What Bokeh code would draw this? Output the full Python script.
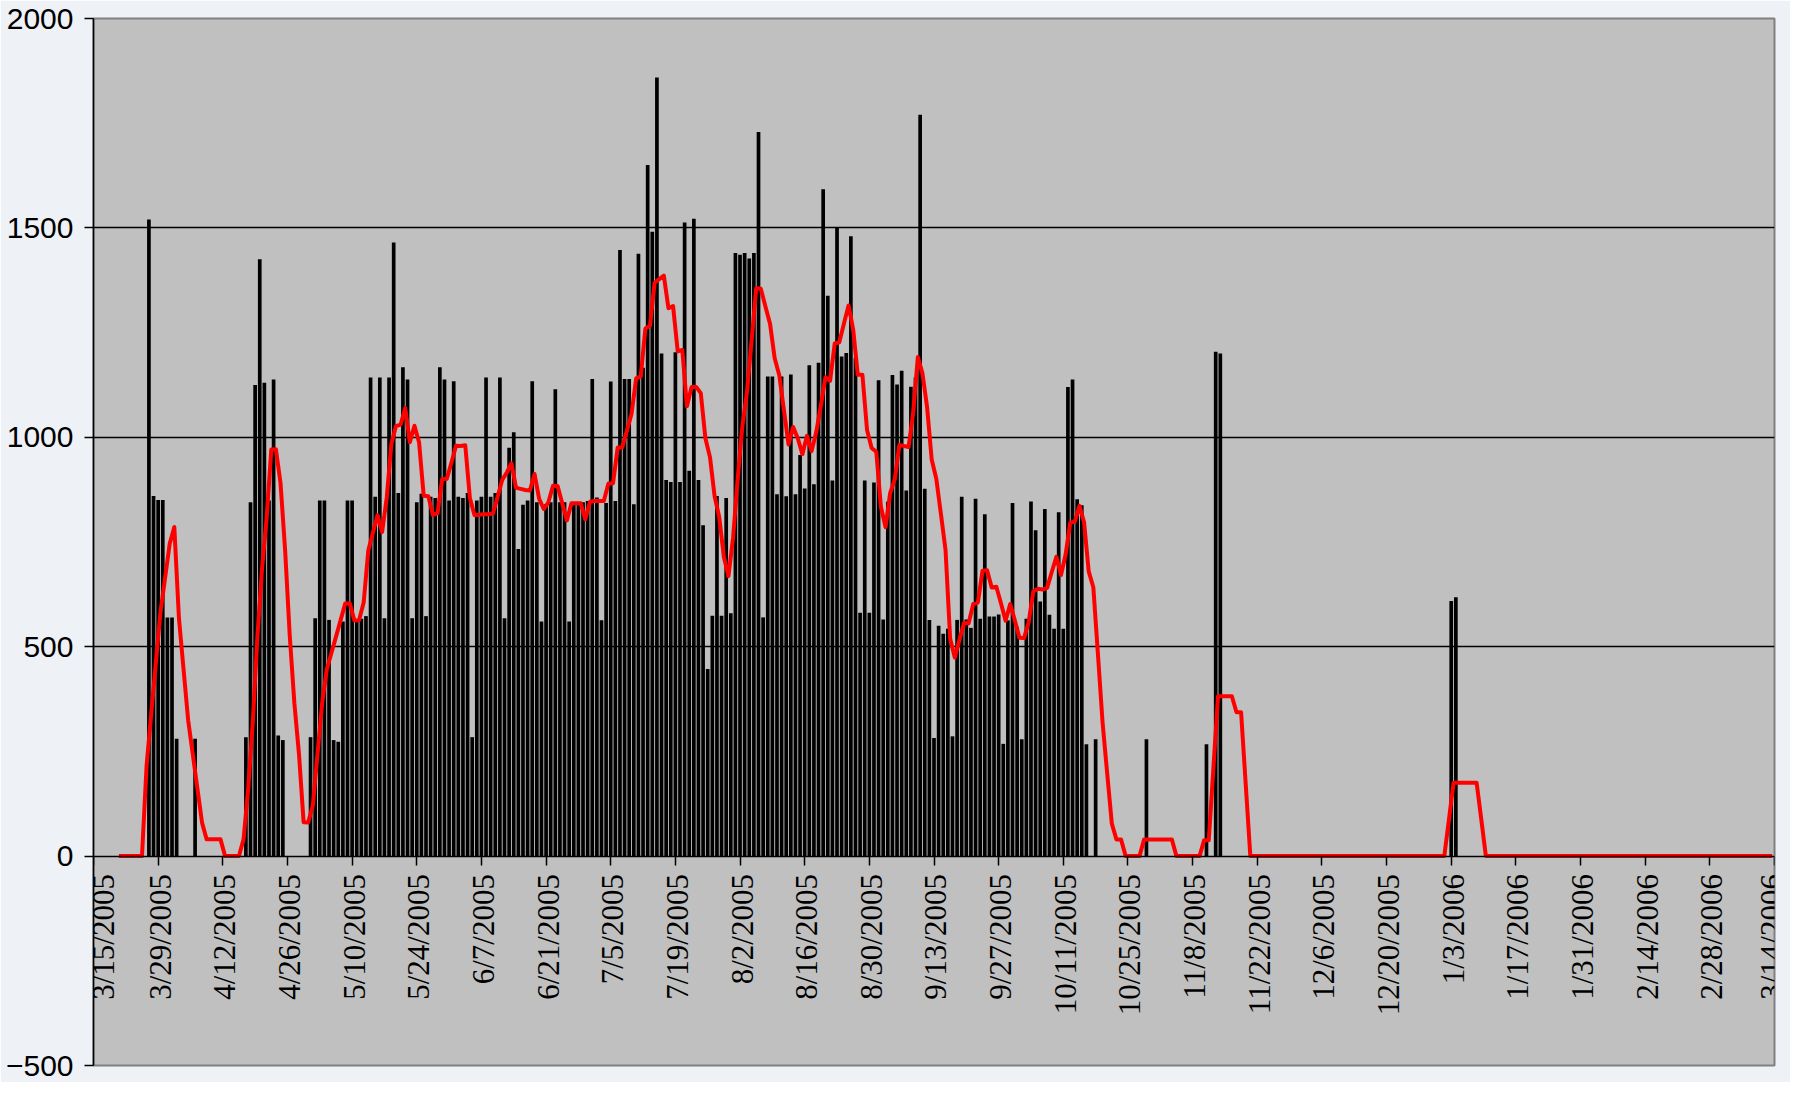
import math
from bokeh.plotting import figure
from bokeh.models import FixedTicker, Range1d, ColumnDataSource, LabelSet
from bokeh.embed import file_html
from bokeh.resources import INLINE

# Day offsets counted from 3/15/2005, with the daily value on that day (days not listed are 0)
mar_days = [12, 13, 14, 15, 16]
mar_vals = [1520, 860, 850, 850, 570]

apr_days = [17, 18, 22, 33, 34, 35, 36, 37, 38, 39, 40, 41]
apr_vals = [570, 280, 280, 284, 845, 1125, 1425, 1130, 849, 1138, 288, 277]

may_days = list(range(47, 78))
may_vals = [284, 568, 849, 849, 564, 277, 273, 560, 849, 849, 566, 567, 573, 1143, 858, 1143,
            568, 1143, 1465, 867, 1167, 1138, 568, 845, 865, 573, 858, 855, 1167, 1138, 849]

jun_days = list(range(78, 108))
jun_vals = [1134, 858, 855, 867, 284, 849, 858, 1143, 858, 867, 1143, 568, 975, 1012, 733,
            839, 849, 1134, 845, 560, 841, 845, 1115, 845, 845, 560, 845, 841, 845, 848]

jul_days = list(range(108, 139))
jul_vals = [1139, 856, 563, 843, 1133, 848, 1447, 1139, 1139, 840, 1438, 1166, 1650, 1491, 1859,
            1200, 898, 893, 1203, 893, 1513, 920, 1522, 898, 790, 447, 574, 860, 574, 855, 580]

aug_days = list(range(139, 170))
aug_vals = [1440, 1436, 1440, 1427, 1440, 1729, 570, 1145, 1145, 864, 1145, 859, 1150, 864, 958,
            878, 1172, 888, 1178, 1592, 1338, 897, 1502, 1193, 1201, 1480, 1190, 581, 897, 581, 892]

sep_days = list(range(170, 200))
sep_vals = [1136, 565, 846, 1149, 1126, 1159, 873, 1121, 1143, 1770, 877, 564, 282, 550, 531,
            543, 286, 564, 858, 565, 545, 853, 567, 816, 572, 572, 577, 268, 563, 843]

oct_days = [200, 201, 202, 203, 204, 205, 206, 207, 208, 209, 210, 211, 212, 213, 214, 215, 217, 228]
oct_vals = [547, 279, 567, 847, 778, 608, 829, 576, 543, 821, 543, 1120, 1138, 852, 838, 267, 279, 279]

nov_days = [241, 243, 244]
nov_vals = [267, 1204, 1200]

jan_days = [294, 295]
jan_vals = [609, 618]

n_days = 365          # 3/15/2005 .. 3/14/2006
ma_period = 7         # moving-average trendline period

tick_days = list(range(0, 365, 14))
tick_labels = ["3/15/2005", "3/29/2005", "4/12/2005", "4/26/2005", "5/10/2005", "5/24/2005",
               "6/7/2005", "6/21/2005", "7/5/2005", "7/19/2005", "8/2/2005", "8/16/2005",
               "8/30/2005", "9/13/2005", "9/27/2005", "10/11/2005", "10/25/2005", "11/8/2005",
               "11/22/2005", "12/6/2005", "12/20/2005", "1/3/2006", "1/17/2006", "1/31/2006",
               "2/14/2006", "2/28/2006", "3/14/2006"]
y_ticks = [-500, 0, 500, 1000, 1500, 2000]
grid_ticks = [500, 1000, 1500]

# ---- assemble ----
days = mar_days + apr_days + may_days + jun_days + jul_days + aug_days + sep_days + oct_days + nov_days + jan_days
vals = mar_vals + apr_vals + may_vals + jun_vals + jul_vals + aug_vals + sep_vals + oct_vals + nov_vals + jan_vals

daily = [0.0] * n_days
for d, v in zip(days, vals):
    daily[d] = v

ma_x, ma_y = [], []
for i in range(ma_period - 1, n_days):
    ma_x.append(i - 0.5)
    ma_y.append(sum(daily[i - ma_period + 1:i + 1]) / ma_period)

bars = ColumnDataSource(dict(x=days, top=vals))
trend = ColumnDataSource(dict(x=ma_x, y=ma_y))

font = "Liberation Sans"

p = figure(width=1790, height=1082, x_range=Range1d(0, 364), y_range=Range1d(-500, 2000),
           output_backend="svg", toolbar_location=None,
           min_border_left=93, min_border_right=16, min_border_top=18, min_border_bottom=17)

p.background_fill_color = "#c0c0c0"
p.border_fill_color = "#eef1f6"
p.outline_line_color = "#808080"
p.outline_line_width = 2

p.vbar(x="x", top="top", width=0.8, source=bars, fill_color="black", line_color=None)
p.line(x="x", y="y", source=trend, line_color="#ff0000", line_width=4, line_join="round")

p.xgrid.visible = False
p.ygrid.ticker = FixedTicker(ticks=grid_ticks)
p.ygrid.grid_line_color = "black"
p.ygrid.grid_line_width = 1.5

# x axis crossing at y = 0, inside the plot area
xa = p.xaxis[0]
xa.fixed_location = 0
xa.ticker = FixedTicker(ticks=tick_days, minor_ticks=[])
xa.major_label_overrides = {d: "" for d in tick_days}
xa.axis_line_color = "black"
xa.axis_line_width = 1.5
xa.major_tick_line_color = "black"
xa.major_tick_line_width = 1.5
xa.major_tick_out = 9
xa.major_tick_in = 0
xa.minor_tick_out = 0
xa.minor_tick_in = 0

# rotated date labels hanging below the zero line (first one kept inside the plot, last one inside the page)
label_dx = [2] * len(tick_days)
label_dx[0] = 10
label_dx[-1] = -3
lbl_src = ColumnDataSource(dict(x=tick_days, y=[0] * len(tick_days), text=tick_labels, dx=label_dx))
p.add_layout(LabelSet(x="x", y="y", text="text", source=lbl_src, x_offset="dx", y_offset=-18,
                      angle=math.pi / 2, text_align="right", text_baseline="middle",
                      text_font=font, text_font_size="31px", text_color="black"))

ya = p.yaxis[0]
ya.ticker = FixedTicker(ticks=y_ticks, minor_ticks=[])
ya.axis_line_color = "black"
ya.axis_line_width = 1.5
ya.major_tick_line_color = "black"
ya.major_tick_line_width = 1.5
ya.major_tick_out = 9
ya.major_tick_in = 0
ya.minor_tick_out = 0
ya.minor_tick_in = 0
ya.major_label_standoff = 11
ya.major_label_text_font = font
ya.major_label_text_font_size = "30px"
ya.major_label_text_color = "black"

open("out.html", "w").write(file_html(p, INLINE))
